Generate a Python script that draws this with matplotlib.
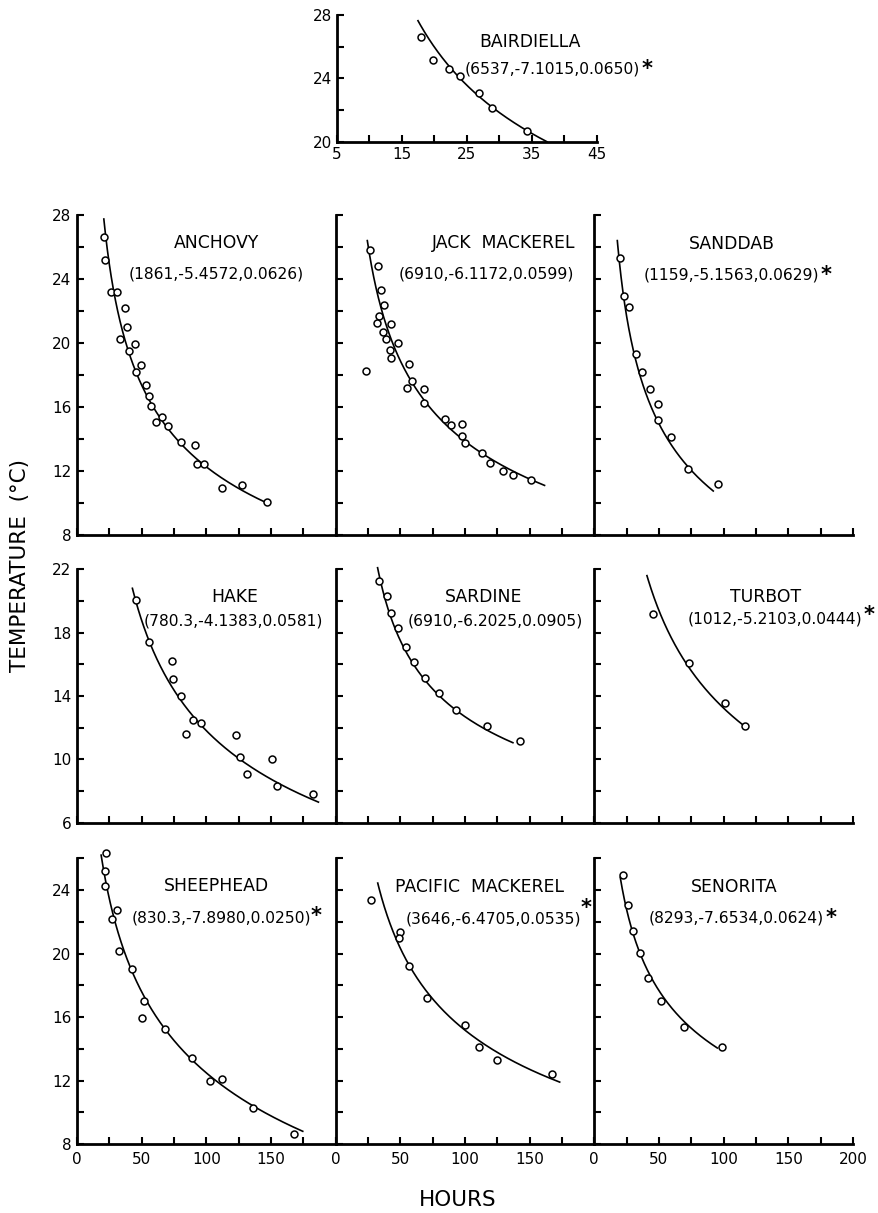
import numpy as np
import matplotlib
matplotlib.use('Agg')
import matplotlib.pyplot as plt
from matplotlib.ticker import MultipleLocator, FuncFormatter

plt.rcParams['font.family'] = ['DejaVu Sans']

# ---------------- data ----------------
names = ["BAIRDIELLA", "ANCHOVY", "JACK  MACKEREL", "SANDDAB", "HAKE", "SARDINE",
         "TURBOT", "SHEEPHEAD", "PACIFIC  MACKEREL", "SENORITA"]
param_labels = ["(6537,-7.1015,0.0650)", "(1861,-5.4572,0.0626)", "(6910,-6.1172,0.0599)",
                "(1159,-5.1563,0.0629)", "(780.3,-4.1383,0.0581)", "(6910,-6.2025,0.0905)",
                "(1012,-5.2103,0.0444)", "(830.3,-7.8980,0.0250)", "(3646,-6.4705,0.0535)",
                "(8293,-7.6534,0.0624)"]
starred = [True, False, False, True, False, False, True, True, True, True]

# fitted curves drawn in the figure: hours = a*exp(b*(1-exp(-c*T)))
curve_a = [6537, 1861, 3150, 1159, 780.3, 6910, 1012, 830.3, 3646, 8293]
curve_b = [-7.1015, -5.4572, -6.1172, -5.1563, -4.1383, -6.2025, -5.2103, -7.8980, -6.4705, -7.6534]
curve_c = [0.0650, 0.0626, 0.0599, 0.0629, 0.0581, 0.0905, 0.0444, 0.0250, 0.0535, 0.0624]
curve_t_min = [20.0, 10.05, 11.1, 10.75, 7.3, 11.05, 12.1, 8.8, 11.9, 14.05]
curve_t_max = [27.64, 27.75, 26.4, 26.4, 20.8, 22.1, 21.6, 26.2, 24.44, 24.8]

bairdiella_hours = [18.0, 19.8, 22.2, 24.0, 26.9, 28.8, 34.2]
bairdiella_temp = [26.63, 25.17, 24.62, 24.17, 23.08, 22.11, 20.66]

anchovy_hours = [21.2, 22.0, 26.4, 31.3, 37.0, 38.3, 33.4, 44.8, 40.1, 49.2, 45.3, 53.0,
                 55.9, 57.4, 65.7, 61.1, 70.4, 80.2, 91.6, 92.4, 98.0, 112.0, 127.3, 147.2]
anchovy_temp = [26.6, 25.17, 23.19, 23.17, 22.19, 21.0, 20.23, 19.92, 19.52, 18.6, 18.17, 17.35,
                16.69, 16.08, 15.35, 15.04, 14.83, 13.83, 13.63, 12.46, 12.44, 10.94, 11.13, 10.08]

jack_hours = [26.6, 32.6, 34.7, 37.3, 33.4, 31.6, 42.7, 36.7, 39.0, 47.9, 42.2, 42.4, 23.8, 56.9,
              59.2, 55.1, 68.3, 68.5, 84.8, 89.5, 97.5, 98.0, 99.9, 113.1, 119.5, 129.4, 137.4, 150.6]
jack_temp = [25.81, 24.81, 23.31, 22.35, 21.69, 21.25, 21.19, 20.67, 20.25, 19.98, 19.56, 19.08,
             18.27, 18.71, 17.6, 17.21, 17.1, 16.27, 15.23, 14.85, 14.94, 14.17, 13.75, 13.15,
             12.52, 12.02, 11.73, 11.44]

sanddab_hours = [19.7, 22.8, 26.9, 32.6, 36.7, 43.2, 48.9, 49.4, 59.5, 72.7, 95.5]
sanddab_temp = [25.29, 22.92, 22.27, 19.31, 18.21, 17.13, 16.17, 15.17, 14.13, 12.15, 11.17]

hake_hours = [45.3, 55.9, 73.5, 74.0, 80.7, 89.3, 84.6, 96.0, 123.2, 125.7, 131.4, 150.8, 155.0, 182.6]
hake_temp = [20.08, 17.42, 16.19, 15.05, 14.02, 12.5, 11.61, 12.29, 11.51, 10.14, 9.08, 10.03, 8.32, 7.81]

sardine_hours = [33.1, 39.3, 42.9, 48.1, 54.3, 60.5, 68.8, 80.2, 92.9, 116.7, 142.8]
sardine_temp = [21.28, 20.29, 19.21, 18.28, 17.08, 16.17, 15.16, 14.17, 13.09, 12.1, 11.15]

turbot_hours = [45.3, 73.5, 100.7, 116.2]
turbot_temp = [19.17, 16.11, 13.56, 12.12]

sheephead_hours = [22.5, 22.0, 22.0, 30.8, 27.4, 32.1, 42.2, 51.7, 50.2, 68.3, 89.0, 103.0,
                   112.3, 135.8, 167.9]
sheephead_temp = [26.33, 25.22, 24.25, 22.74, 22.17, 20.14, 19.02, 17.03, 15.94, 15.24, 13.44,
                  11.95, 12.12, 10.29, 8.63]

pacific_hours = [27.4, 49.4, 48.6, 56.4, 70.4, 99.9, 111.0, 124.7, 167.1]
pacific_temp = [23.37, 21.37, 20.98, 19.24, 17.22, 15.52, 14.09, 13.29, 12.39]

senorita_hours = [22.0, 26.1, 30.3, 35.4, 41.4, 51.5, 69.3, 99.1]
senorita_temp = [24.94, 23.03, 21.44, 20.01, 18.48, 16.99, 15.39, 14.13]

point_hours = [bairdiella_hours, anchovy_hours, jack_hours, sanddab_hours, hake_hours,
               sardine_hours, turbot_hours, sheephead_hours, pacific_hours, senorita_hours]
point_temp = [bairdiella_temp, anchovy_temp, jack_temp, sanddab_temp, hake_temp,
              sardine_temp, turbot_temp, sheephead_temp, pacific_temp, senorita_temp]

row_ylim = [(8, 28), (6, 22), (8, 26)]
grid_xticklabels = [0, 50, 100, 150, 200]

# ---------------- layout ----------------
W, H = 879, 1213
fig = plt.figure(figsize=(W / 100, H / 100), dpi=100)

def px_axes(x0, y_top, w, h):
    return fig.add_axes([x0 / W, 1 - (y_top + h) / H, w / W, h / H])

col_left = [77, 335.7, 594.3]
col_w = 258.7
row_top = [215, 569.3, 858.3]
row_h = [320, 253.4, 285.7]

# text positions (axes fractions)
name_pos = [(0.743, 0.789), (0.539, 0.9125), (0.648, 0.913), (0.530, 0.908), (0.609, 0.889),
            (0.573, 0.889), (0.663, 0.889), (0.540, 0.904), (0.556, 0.901), (0.541, 0.901)]
param_pos = [(0.829, 0.574), (0.539, 0.815), (0.581, 0.816), (0.531, 0.8125), (0.603, 0.797),
             (0.617, 0.797), (0.698, 0.803), (0.557, 0.792), (0.609, 0.787), (0.549, 0.790)]
star_offset = [(1, 2), None, None, (1, 2), None, None, (1, 5), (0, 3), (0, 10), (1, 2)]

SPINE_LW = 2.0
TICK_KW = dict(direction='in', length=5, width=1.5, labelsize=11)


def style_axes(ax):
    for s in ['top', 'right']:
        ax.spines[s].set_visible(False)
    for s in ['left', 'bottom']:
        ax.spines[s].set_linewidth(SPINE_LW)


def draw_species(ax, i):
    t = np.linspace(curve_t_min[i], curve_t_max[i], 300)
    hrs = curve_a[i] * np.exp(curve_b[i] * (1 - np.exp(-curve_c[i] * t)))
    ax.plot(hrs, t, color='black', lw=1.2, clip_on=False, zorder=3)
    ax.plot(point_hours[i], point_temp[i], linestyle='none', marker='o', ms=5,
            mfc='white', mec='black', mew=1.1, clip_on=False, zorder=4)
    ax.text(*name_pos[i], names[i], transform=ax.transAxes, ha='center', va='center',
            fontsize=12.4)
    pt = ax.text(*param_pos[i], param_labels[i], transform=ax.transAxes, ha='center',
                 va='center', fontsize=11.2)
    if starred[i]:
        ax.annotate('*', xy=(1.0, 1.0), xycoords=pt, xytext=star_offset[i],
                    textcoords='offset points', ha='left', va='top', fontsize=15,
                    fontweight='bold')


# top panel: Bairdiella
ax0 = px_axes(336.7, 15, 260.3, 126.7)
style_axes(ax0)
ax0.set_xlim(5, 45)
ax0.set_ylim(20, 28)
ax0.xaxis.set_major_locator(MultipleLocator(5))
ax0.yaxis.set_major_locator(MultipleLocator(2))
ax0.xaxis.set_major_formatter(FuncFormatter(lambda v, p: f"{v:.0f}" if (v - 5) % 10 == 0 else ""))
ax0.yaxis.set_major_formatter(FuncFormatter(lambda v, p: f"{v:.0f}" if (v - 20) % 4 == 0 else ""))
ax0.tick_params(axis='x', pad=4, **TICK_KW)
ax0.tick_params(axis='y', pad=3, **TICK_KW)
draw_species(ax0, 0)

# 3x3 grid
for r in range(3):
    lo, hi = row_ylim[r]
    for c in range(3):
        i = 1 + r * 3 + c
        ax = px_axes(col_left[c], row_top[r], col_w, row_h[r])
        style_axes(ax)
        ax.set_xlim(0, 200)
        ax.set_ylim(lo, hi)
        ax.xaxis.set_major_locator(MultipleLocator(25))
        ax.yaxis.set_major_locator(MultipleLocator(2))
        if c == 0:
            ax.yaxis.set_major_formatter(
                FuncFormatter(lambda v, p, lo=lo: f"{v:.0f}" if (v - lo) % 4 == 0 else ""))
        else:
            ax.yaxis.set_major_formatter(FuncFormatter(lambda v, p: ""))
        if r == 2:
            maxlab = 200 if c == 2 else 150
            ax.xaxis.set_major_formatter(
                FuncFormatter(lambda v, p, m=maxlab: f"{v:.0f}"
                              if (v <= m and v in grid_xticklabels) else ""))
        else:
            ax.xaxis.set_major_formatter(FuncFormatter(lambda v, p: ""))
        ax.tick_params(axis='x', pad=6, **TICK_KW)
        ax.tick_params(axis='y', pad=4, **TICK_KW)
        draw_species(ax, i)

fig.text(20 / W, 1 - 565 / H, "TEMPERATURE  (°C)", rotation=90, ha='center', va='center',
         fontsize=15.5)
fig.text(458 / W, 1 - 1200 / H, "HOURS", ha='center', va='center', fontsize=15.5)

fig.savefig('out.png', dpi=100)
